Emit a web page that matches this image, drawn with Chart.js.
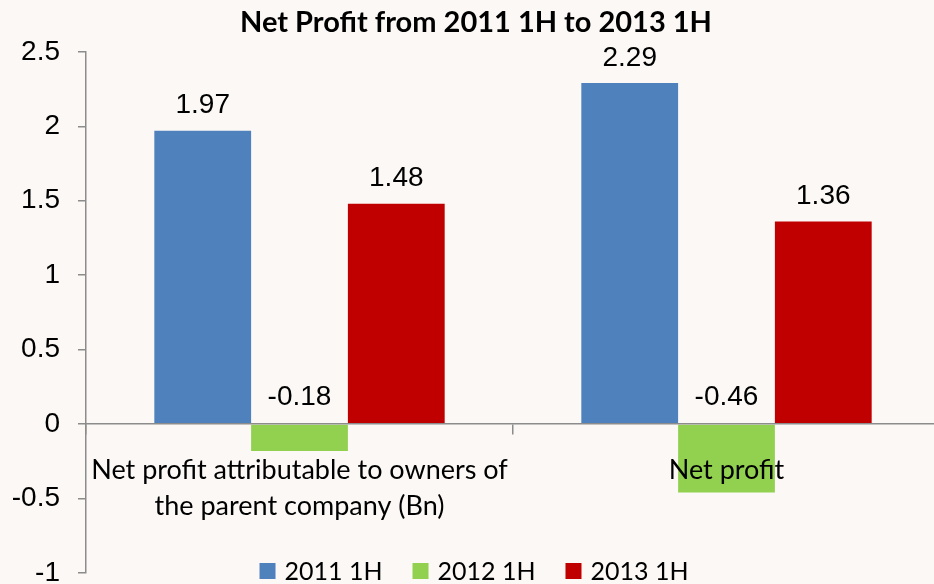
<!DOCTYPE html>
<html>
<head>
<meta charset="utf-8">
<title>Net Profit from 2011 1H to 2013 1H</title>
<script src="https://cdn.jsdelivr.net/npm/chart.js@4/dist/chart.umd.min.js"></script>
<style>
  html, body { margin: 0; padding: 0; background: #fbf8f5; overflow: hidden; }
  /* the original picture is cropped on the right, so the canvas is a bit wider than the window */
  #wrap { width: 940px; height: 584px; position: relative; }
</style>
</head>
<body>
<div id="wrap"><canvas id="profitChart"></canvas></div>
<script>
// chart data
const categories = [["Net profit attributable to owners of", "the parent company (Bn)"], "Net profit"];
const seriesNames = ["2011 1H", "2012 1H", "2013 1H"];
const values2011 = [1.97, 2.29];
const values2012 = [-0.18, -0.46];
const values2013 = [1.48, 1.36];
const yMin = -1;
const yMax = 2.5;
const yStep = 0.5;

const seriesColors = ["#4f81bd", "#92d050", "#c00000"];
const axisGray = "#8c8c8c";
const numberFont = "'Liberation Sans', Arial, sans-serif";
const textFont = "Lato, 'Open Sans', sans-serif";

// value labels above each bar (negatives sit just above the zero line)
const barValueLabels = {
  id: "barValueLabels",
  afterDatasetsDraw(chart) {
    const ctx = chart.ctx;
    const zeroY = chart.scales.y.getPixelForValue(0);
    ctx.save();
    ctx.font = "28px " + numberFont;
    ctx.fillStyle = "#000";
    ctx.textAlign = "center";
    ctx.textBaseline = "middle";
    chart.data.datasets.forEach((ds, i) => {
      const meta = chart.getDatasetMeta(i);
      meta.data.forEach((bar, j) => {
        const v = ds.data[j];
        const y = v >= 0 ? bar.y - 25 : zeroY - 27;
        ctx.fillText(v.toFixed(2), bar.x, y);
      });
    });
    ctx.restore();
  }
};

// legend drawn at the bottom, partly clipped like the original
const bottomLegend = {
  id: "bottomLegend",
  afterDraw(chart) {
    const ctx = chart.ctx;
    const box = 16, gapText = 9, gapItem = 30;
    ctx.save();
    ctx.font = "25px " + textFont;
    ctx.textBaseline = "middle";
    ctx.textAlign = "left";
    const items = chart.data.datasets.map(ds => ({ label: ds.label, color: ds.backgroundColor, w: ctx.measureText(ds.label).width }));
    let total = 0;
    items.forEach((it, i) => { total += box + gapText + it.w + (i < items.length - 1 ? gapItem : 0); });
    let x = chart.width / 2 + 4 - total / 2;
    const cy = 571;
    items.forEach(it => {
      ctx.fillStyle = it.color;
      ctx.fillRect(x, cy - box / 2, box, box);
      ctx.fillStyle = "#000";
      ctx.fillText(it.label, x + box + gapText, cy + 1);
      x += box + gapText + it.w + gapItem;
    });
    ctx.restore();
  }
};

const seriesValues = [values2011, values2012, values2013];

new Chart(document.getElementById("profitChart").getContext("2d"), {
  type: "bar",
  data: {
    labels: categories,
    datasets: seriesNames.map((name, i) => ({
      label: name,
      data: seriesValues[i],
      backgroundColor: seriesColors[i],
      borderWidth: 0,
      categoryPercentage: 0.68,
      barPercentage: 1.0
    }))
  },
  options: {
    responsive: true,
    maintainAspectRatio: false,
    animation: false,
    layout: { padding: { left: 12, right: 0, top: 0, bottom: 11 } },
    plugins: {
      legend: { display: false },
      tooltip: { enabled: false },
      title: {
        display: true,
        text: "Net Profit from 2011 1H to 2013 1H",
        color: "#000",
        font: { family: textFont, size: 29, weight: "bold", lineHeight: 1.2 },
        padding: { top: 5, bottom: 12 }
      }
    },
    scales: {
      x: {
        type: "category",
        position: { y: 0 },
        grid: { offset: true, drawOnChartArea: false, drawTicks: true, tickLength: 10, color: axisGray, lineWidth: 1.5 },
        border: { display: true, color: axisGray, width: 1.5, z: 1 },
        ticks: {
          color: "#000",
          font: { family: textFont, size: 27, lineHeight: 1.33 },
          padding: 18,
          maxRotation: 0,
          autoSkip: false,
          z: 1
        },
        afterFit: scale => { scale.paddingLeft = 0; scale.paddingRight = 0; }
      },
      y: {
        min: yMin,
        max: yMax,
        grid: { drawOnChartArea: false, drawTicks: true, tickLength: 8, color: axisGray, lineWidth: 1.5 },
        border: { display: true, color: axisGray, width: 1.5 },
        ticks: {
          stepSize: yStep,
          color: "#000",
          font: { family: numberFont, size: 28 },
          padding: 18,
          callback: value => String(value)
        },
        afterFit: scale => { scale.paddingBottom = 0; scale.width = 74; }
      }
    }
  },
  plugins: [barValueLabels, bottomLegend]
});
</script>
</body>
</html>
